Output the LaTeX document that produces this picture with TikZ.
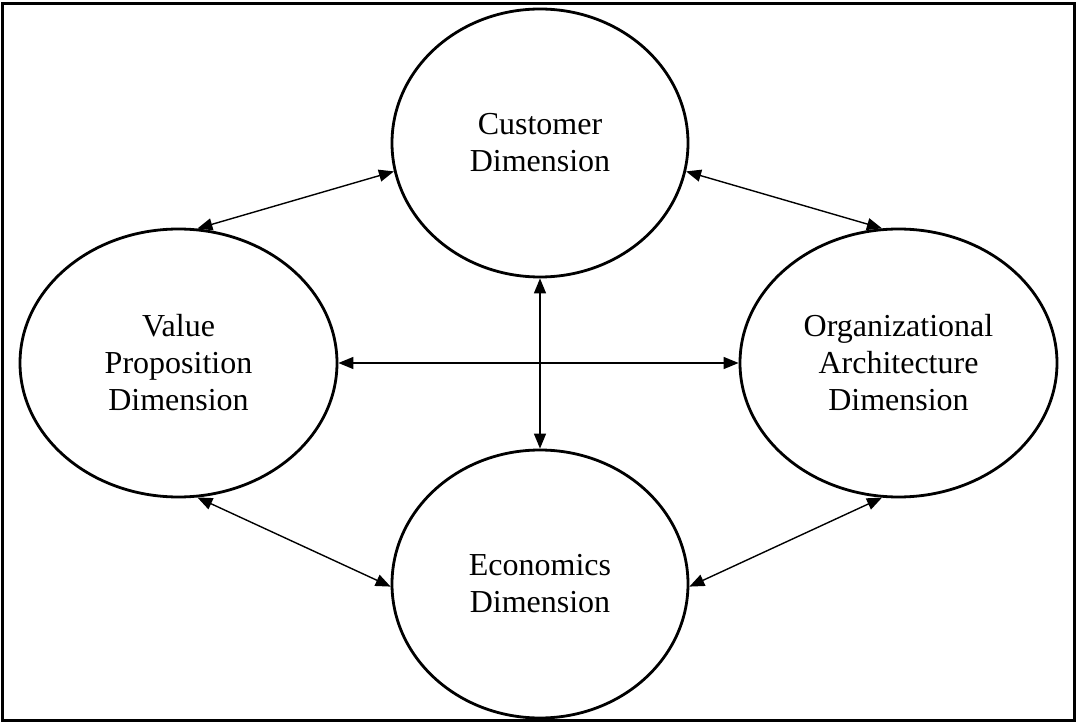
\documentclass[tikz,border=0pt]{standalone}
\usepackage{fontspec}
\setmainfont{Liberation Serif}
\usetikzlibrary{shapes.geometric,arrows.meta}
\begin{document}
\begin{tikzpicture}[x=1pt,y=-1pt,
  dim/.style={ellipse,draw,line width=2.8pt,minimum width=296pt,minimum height=268pt,inner sep=0pt,align=center,font=\fontsize{32}{37}\selectfont},
  side/.style={dim,minimum width=317pt},
  link/.style={line width=1.4pt,{Triangle[length=15pt,width=12pt]}-{Triangle[length=15pt,width=12pt]}}]
\useasboundingbox (0,0) rectangle (1077,722);
\draw[line width=3pt] (2.5,4) rectangle (1074,720);
\node[dim] (cust) at (540,143) {Customer\\Dimension};
\node[dim] (econ) at (540,584) {Economics\\Dimension};
\node[side] (val) at (178.5,363) {Value\\Proposition\\Dimension};
\node[side] (org) at (898.5,363) {Organizational\\Architecture\\Dimension};
\draw[link] (cust.191) -- (val.82);
\draw[link] (cust.349) -- (org.97);
\draw[link] (val.east) -- (org.west);
\draw[link] (cust.south) -- (econ.north);
\draw[link] (val.278) -- (econ.181);
\draw[link] (org.263) -- (econ.359);
\end{tikzpicture}
\end{document}
